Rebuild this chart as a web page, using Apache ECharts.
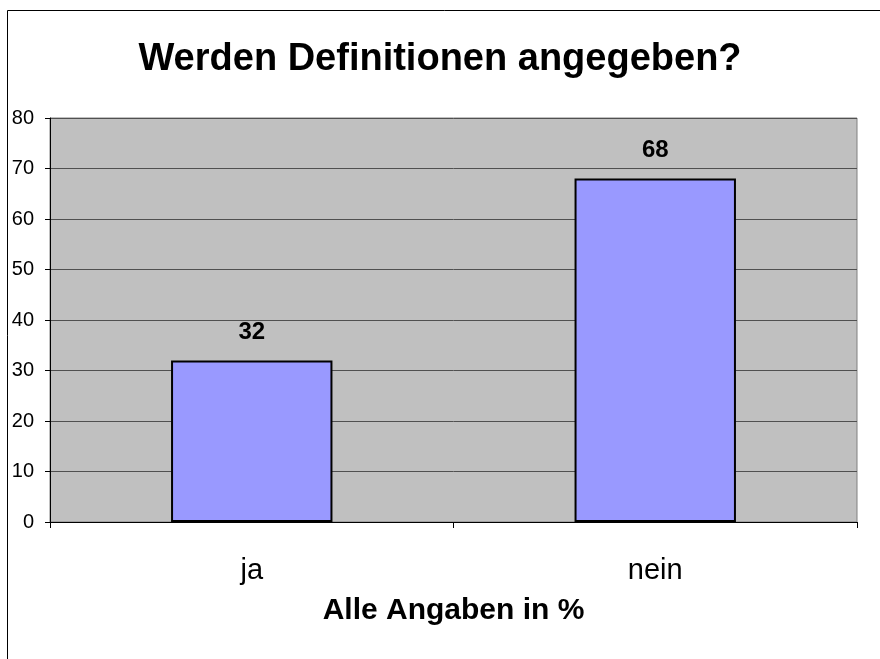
<!DOCTYPE html>
<html>
<head>
<meta charset="utf-8">
<script src="https://cdn.jsdelivr.net/npm/echarts@6/dist/echarts.min.js"></script>
<style>
  html, body { margin: 0; padding: 0; background: #fff; }
</style>
</head>
<body>
<div id="main" style="width: 880px;height:659px;"></div>
<script>
// Daten
var categories = ['ja', 'nein']
var values = [32, 68]
var yTicks = [0, 10, 20, 30, 40, 50, 60, 70, 80]

var myChart = echarts.init(document.getElementById('main'))
var option = {
  animation: false,
  backgroundColor: '#ffffff',
  textStyle: { fontFamily: 'Liberation Sans, Arial, sans-serif' },
  graphic: [
    {
      type: 'rect',
      shape: { x: 7.5, y: 10.5, width: 900, height: 700 },
      style: { fill: 'none', stroke: '#000', lineWidth: 1 },
      silent: true
    }
  ],
  title: {
    text: 'Werden Definitionen angegeben?',
    left: 'center',
    top: 36,
    textStyle: { fontSize: 38, fontWeight: 'bold', color: '#000', fontFamily: 'Liberation Sans, Arial, sans-serif' }
  },
  grid: {
    left: 50,
    right: 23,
    top: 118,
    bottom: 137,
    show: true,
    backgroundColor: '#C0C0C0',
    borderColor: '#808080',
    borderWidth: 1
  },
  xAxis: {
    type: 'category',
    data: categories,
    name: 'Alle Angaben in %',
    nameLocation: 'middle',
    nameGap: 74,
    nameTextStyle: { fontSize: 30, fontWeight: 'bold', color: '#000' },
    axisLine: { lineStyle: { color: '#000', width: 1 } },
    axisTick: { show: true, length: 6, lineStyle: { color: '#000' } },
    axisLabel: { fontSize: 29, color: '#000', margin: 34 }
  },
  yAxis: {
    type: 'value',
    min: yTicks[0],
    max: yTicks[yTicks.length - 1],
    interval: 10,
    axisLine: { show: true, lineStyle: { color: '#000', width: 1 } },
    axisTick: { show: true, length: 5, lineStyle: { color: '#000' } },
    axisLabel: { fontSize: 20, color: '#000', margin: 16 },
    splitLine: { show: true, lineStyle: { color: '#505050', width: 1 } }
  },
  series: [
    {
      type: 'bar',
      data: values,
      barWidth: '40%',
      itemStyle: { color: '#9999FF', borderColor: '#000', borderWidth: 2 },
      label: {
        show: true,
        position: 'top',
        distance: 16,
        fontSize: 24,
        fontWeight: 'bold',
        color: '#000'
      }
    }
  ]
}
myChart.setOption(option)
</script>
</body>
</html>
